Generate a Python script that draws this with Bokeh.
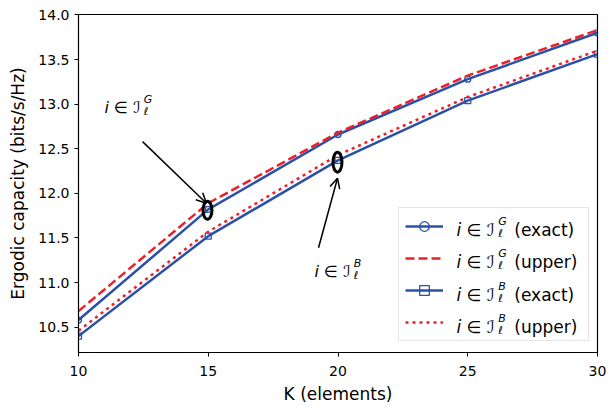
from bokeh.plotting import figure
from bokeh.models import (Legend, LegendItem, Label, Arrow, OpenHead, Range1d,
                          FixedTicker, NumeralTickFormatter)
from bokeh.embed import file_html
from bokeh.resources import INLINE

# ---------------- data ----------------
K = [10, 15, 20, 25, 30]
g_exact = [10.58, 11.82, 12.66, 13.28, 13.80]
g_upper = [10.68, 11.89, 12.68, 13.32, 13.83]
b_exact = [10.40, 11.52, 12.37, 13.04, 13.56]
b_upper = [10.46, 11.57, 12.43, 13.08, 13.60]
x_ticks = [10, 15, 20, 25, 30]
y_ticks = [10.5, 11.0, 11.5, 12.0, 12.5, 13.0, 13.5, 14.0]

BLUE = "#2a50a8"
RED = "#e8222a"
FONT = "DejaVu Sans"

# frame placement (image pixels)
FL, FR, FT, FB = 78, 597, 14, 352
W, H = 608, 407

p = figure(width=W, height=H, output_backend="svg", toolbar_location=None,
           x_range=Range1d(10, 30), y_range=Range1d(10.216, 14.005),
           min_border_left=FL, min_border_right=W - FR,
           min_border_top=FT, min_border_bottom=H - FB)
p.xgrid.visible = False
p.ygrid.visible = False
p.outline_line_color = "black"
p.outline_line_width = 1.2
p.background_fill_color = "white"
p.border_fill_color = "white"

for ax in (p.xaxis[0], p.yaxis[0]):
    ax.axis_line_color = "black"
    ax.major_tick_line_color = "black"
    ax.major_tick_out = 4
    ax.major_tick_in = 0
    ax.minor_tick_out = 0
    ax.minor_tick_in = 0
    ax.major_label_text_font = FONT
    ax.major_label_text_font_size = "14px"
    ax.major_label_text_color = "black"
    ax.axis_label_text_font = FONT
    ax.axis_label_text_font_style = "normal"
    ax.axis_label_text_font_size = "17px"
    ax.axis_label_text_color = "black"

p.xaxis.ticker = FixedTicker(ticks=x_ticks)
p.yaxis.ticker = FixedTicker(ticks=y_ticks)
p.yaxis.formatter = NumeralTickFormatter(format="0.0")
p.yaxis.axis_label = "Ergodic capacity (bits/s/Hz)"
p.yaxis.axis_label_standoff = 7
p.xaxis.axis_label = "K (elements)"
p.xaxis.axis_label_standoff = 5
p.xaxis.major_label_standoff = 9

# ---------------- series ----------------
ge = p.line(K, g_exact, line_color=BLUE, line_width=2.5)
gem = p.scatter(K, g_exact, marker="circle", size=6, line_color=BLUE,
                fill_alpha=0, line_width=1.3)
gu = p.line(K, g_upper, line_color=RED, line_width=2.5, line_dash="9 4")
be = p.line(K, b_exact, line_color=BLUE, line_width=2.5)
bem = p.scatter(K, b_exact, marker="square", size=6, line_color=BLUE,
                fill_alpha=0, line_width=1.3)
bu = p.line(K, b_upper, line_color=RED, line_width=2.5, line_dash="3 4")

# ---------------- annotations ----------------
p.ellipse(x=[14.97], y=[11.81], width=9, height=18, width_units="screen",
          height_units="screen", fill_alpha=0, line_color="black", line_width=3)
p.ellipse(x=[19.98], y=[12.35], width=9, height=20, width_units="screen",
          height_units="screen", fill_alpha=0, line_color="black", line_width=3)
p.add_layout(Arrow(end=OpenHead(size=10, line_width=1.5, line_color="black"),
                   x_start=12.47, y_start=12.58, x_end=14.93, y_end=11.89,
                   line_width=1.5, line_color="black"))
p.add_layout(Arrow(end=OpenHead(size=10, line_width=1.5, line_color="black"),
                   x_start=19.25, y_start=11.39, x_end=19.98, y_end=12.17,
                   line_width=1.5, line_color="black"))

# ---------------- legend ----------------
items = [
    LegendItem(label=" ", renderers=[ge, gem]),
    LegendItem(label=" ", renderers=[gu]),
    LegendItem(label=" ", renderers=[be, bem]),
    LegendItem(label=" ", renderers=[bu]),
]
leg = Legend(items=items, location=(398 - FL, FB - 341), margin=0, padding=6,
             spacing=8, glyph_width=38, glyph_height=24, label_height=24,
             label_standoff=14, label_width=125,
             border_line_color="#cccccc", border_line_width=1,
             background_fill_color="white", background_fill_alpha=0)
p.add_layout(leg)


def put(s, X, Y, size, style="normal"):
    """Place text at image pixel (X, Y) (baseline-left)."""
    p.add_layout(Label(x=X - FL, y=FB - Y, x_units="screen", y_units="screen",
                       text=s, text_font=FONT, text_font_size=f"{size}px",
                       text_font_style=style, text_color="black",
                       text_baseline="alphabetic", text_align="left"))


def set_label(X, Y, sup, size, tail=None):
    put("i ∈ ℐ", X, Y, size, "italic")
    w = 2.45 * size
    put(sup, X + w, Y - 0.5 * size, int(size * 0.7), "italic")
    put("ℓ", X + w, Y + 0.22 * size, int(size * 0.7), "italic")
    if tail:
        put(tail, X + w + 0.95 * size, Y, size)


set_label(104, 107, "G", 16)
set_label(314, 271, "B", 16)

tails = ["(exact)", "(upper)", "(exact)", "(upper)"]
sups = ["G", "G", "B", "B"]
for k in range(4):
    set_label(456, 229 + 32.5 * k, sups[k], 17, tails[k])

open("out.html", "w").write(file_html(p, INLINE))
